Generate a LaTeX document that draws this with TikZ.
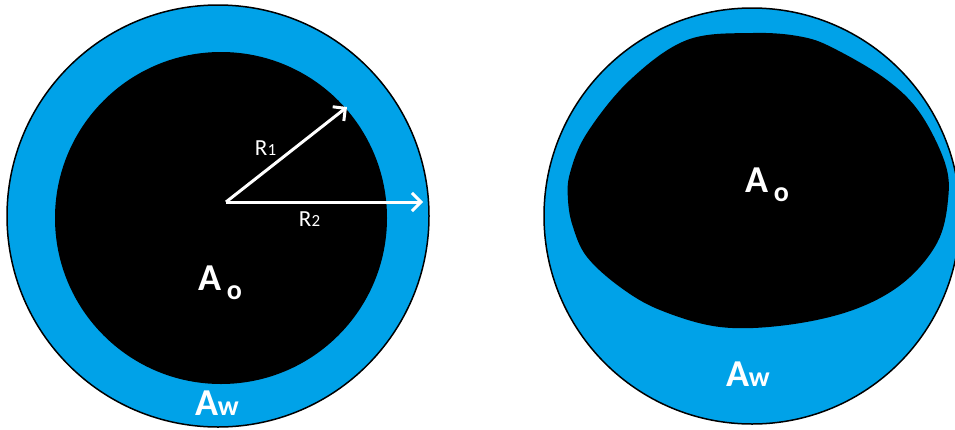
\documentclass[tikz,border=0pt]{standalone}
\usepackage{fontspec}
\setmainfont{Carlito}
\usetikzlibrary{arrows.meta}
\definecolor{water}{HTML}{00A2E8}
\begin{document}
\begin{tikzpicture}[x=1pt,y=-1pt,
  outerdisk/.style={circle, fill=water, draw=black, line width=1.5pt, inner sep=0pt},
  innerdisk/.style={circle, fill=black, inner sep=0pt},
  radiusarrow/.style={white, line width=3pt, -{Straight Barb[length=9pt,width=18pt]}},
  biglabel/.style={text=white, font=\fontsize{38}{38}\selectfont\bfseries, inner sep=0pt, anchor=base},
  sublabel/.style={text=white, font=\fontsize{28}{28}\selectfont\bfseries, inner sep=0pt, anchor=base west},
  rlabel/.style={text=white, font=\fontsize{23}{23}\selectfont, inner sep=0pt, anchor=base},
  rsub/.style={text=white, font=\fontsize{17}{17}\selectfont, inner sep=0pt, anchor=base west}]
\useasboundingbox (0,0) rectangle (955,429);
\clip (0,0) rectangle (955,429);
% left pipe
\node[outerdisk, minimum size=422pt] (outerL) at (218,216) {};
\node[innerdisk, minimum size=332pt] (innerL) at (221,218) {};
\coordinate (cL) at (226,202);
\coordinate (tipA) at (347,107);
\coordinate (tipB) at (423,202);
\draw[radiusarrow] (cL) -- (tipA);
\draw[radiusarrow] (cL) -- (tipB);
\node[rlabel] (r1) at (261,155) {R};
\node[rsub] (r1s) at (r1.base east) {1};
\node[rlabel] (r2) at (305,226) {R};
\node[rsub] (r2s) at (r2.base east) {2};
\node[biglabel] (aoL) at (210,290) {A};
\node[sublabel] (aoLs) at ([xshift=5pt,yshift=-9pt]aoL.base east) {o};
\node[biglabel] (awL) at (207,415) {A};
\node[sublabel] (awLs) at ([xshift=-1pt]awL.base east) {w};
% right pipe
\node[outerdisk, minimum size=416pt] (outerR) at (752,216) {};
\fill[black] plot[smooth cycle, tension=0.6] coordinates {
  (753,33) (803,37) (837,50) (887,80) (920,113) (945,163) (948,200)
  (937,243) (903,283) (853,310) (787,325) (720,327) (660,310)
  (620,287) (587,257) (573,227) (568,200) (570,173) (587,133)
  (630,80) (687,40)};
\node[biglabel] (aoR) at (757,192) {A};
\node[sublabel] (aoRs) at ([xshift=5pt,yshift=-9pt]aoR.base east) {o};
\node[biglabel] (awR) at (738,386) {A};
\node[sublabel] (awRs) at ([xshift=-1pt]awR.base east) {w};
\end{tikzpicture}
\end{document}
